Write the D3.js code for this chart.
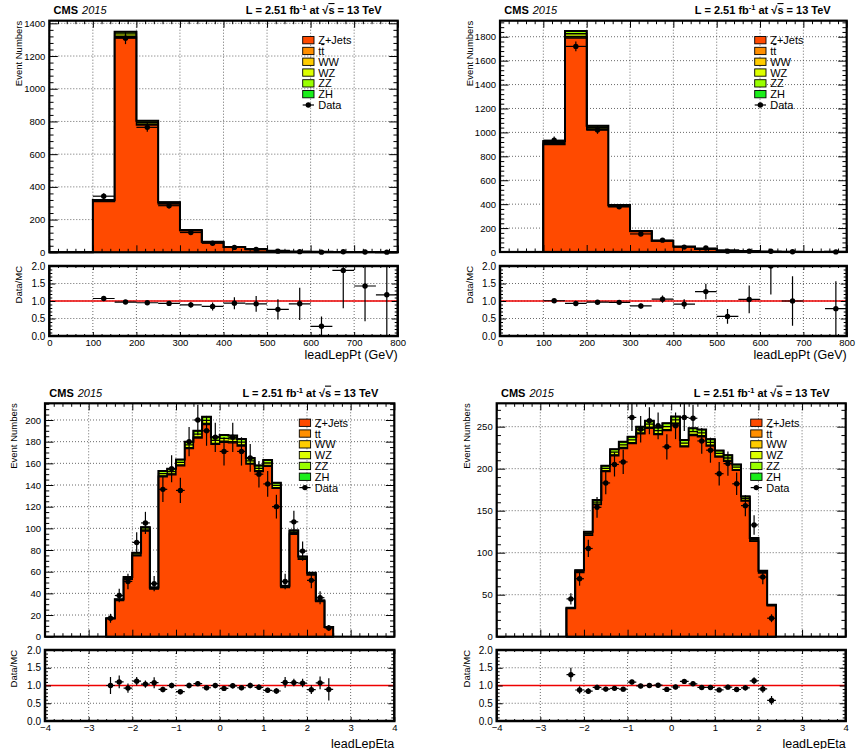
<!DOCTYPE html>
<html>
<head>
<meta charset="utf-8">
<script src="https://cdn.jsdelivr.net/npm/d3@7"></script>
<style>
    body { margin: 0; background: #fff; }
    svg { display: block; font-family: 'Liberation Sans', Arial, Helvetica, sans-serif; }
</style>
</head>
<body>
<svg id="chart" width="859" height="749"></svg>
<script>
// ---- data ----
const processNames = ['Z+Jets', 'tt', 'WW', 'WZ', 'ZZ', 'ZH'];

const ptEdges = [0, 50, 100, 150, 200, 250, 300, 350, 400, 450, 500, 550, 600, 650, 700, 750, 800];
const ptTicks = [0, 100, 200, 300, 400, 500, 600, 700, 800];
const ptTickLabels = ['0', '100', '200', '300', '400', '500', '600', '700', '800'];

// top-left plot
const ptAZJets = [0, 0, 310.3, 1313.4, 778, 295.4, 130.7, 62.1, 30.4, 17.5, 8.7, 4.15, 3.4, 1.5, 1.3, 0.8];
const ptATT = [0, 0, 1.3, 5, 3.5, 1.5, 0.7, 0.4, 0.2, 0.1, 0.1, 0, 0, 0, 0, 0];
const ptAWW = [0, 0, 0.6, 3, 2, 0.8, 0.4, 0.2, 0.1, 0.1, 0, 0, 0, 0, 0, 0];
const ptAWZ = [0, 0, 3.8, 14, 10, 4, 2, 1.1, 0.6, 0.4, 0.2, 0.1, 0.1, 0.05, 0.05, 0.03];
const ptAZZ = [0, 0, 3.8, 13, 10, 4, 2, 1.1, 0.6, 0.4, 0.2, 0.1, 0.1, 0.05, 0.05, 0.02];
const ptAZH = [0, 0, 0.2, 0.6, 0.5, 0.3, 0.2, 0.1, 0.1, 0, 0, 0, 0, 0, 0, 0];
const ptAData = [0, 0, 343, 1309, 764, 285, 121, 55, 30, 17, 7, 4, 1, 3, 2, 1];

// top-right plot
const ptBZJets = [0, 0, 898.1, 1787.5, 1022, 379.8, 170.1, 90.8, 43.5, 25, 12, 6.5, 2.9, 1.9, 0.95, 1.22];
const ptBTT = [0, 0, 4.6, 9, 5, 2, 1, 0.5, 0.2, 0.1, 0.1, 0, 0, 0, 0, 0];
const ptBWW = [0, 0, 2.8, 5.5, 3, 1.2, 0.5, 0.3, 0.1, 0.1, 0, 0, 0, 0, 0, 0];
const ptBWZ = [0, 0, 11, 23, 13, 5, 2.2, 1.2, 0.6, 0.4, 0.2, 0.1, 0.05, 0.05, 0.03, 0.03];
const ptBZZ = [0, 0, 11, 22, 12.5, 4.8, 2.1, 1.1, 0.6, 0.4, 0.2, 0.1, 0.05, 0.05, 0.02, 0.03];
const ptBZH = [0, 0, 0.5, 1, 0.5, 0.2, 0.1, 0.1, 0, 0, 0, 0, 0, 0, 0, 0];
const ptBData = [0, 0, 935, 1719, 1020, 378, 151, 99, 41, 33, 7, 7, 6, 2, 0, 1];

const etaTicks = [-4, -3, -2, -1, 0, 1, 2, 3, 4];
const etaTickLabels = ['\u22124', '\u22123', '\u22122', '\u22121', '0', '1', '2', '3', '4'];

// bottom-left plot
const etaAEdges = [-2.6, -2.4, -2.2, -2.0, -1.8, -1.6, -1.4, -1.2, -1.0, -0.8, -0.6, -0.4, -0.2, 0,
    0.2, 0.4, 0.6, 0.8, 1.0, 1.2, 1.4, 1.6, 1.8, 2.0, 2.2, 2.4, 2.6];
const etaAZJets = [16.4, 33.3, 53.0, 74.7, 97.4, 43.9, 147.6, 149.4, 157.7, 173.6, 183.3, 195.8, 177.5,
    179.4, 178.9, 176.0, 159.2, 152.4, 157.2, 136.9, 45.3, 94.5, 71.4, 56.9, 32.3, 8.7];
const etaATT = [0.1, 0.1, 0.2, 0.2, 0.3, 0.1, 0.5, 0.5, 0.5, 0.5, 0.6, 0.6, 0.6, 0.6, 0.6, 0.5, 0.5,
    0.5, 0.5, 0.4, 0.1, 0.3, 0.2, 0.2, 0.1, 0];
const etaAWW = [0, 0.1, 0.1, 0.2, 0.2, 0.1, 0.3, 0.3, 0.3, 0.4, 0.4, 0.4, 0.4, 0.4, 0.4, 0.4, 0.3, 0.3,
    0.3, 0.3, 0.1, 0.2, 0.1, 0.1, 0.1, 0];
const etaAWZ = [0.2, 0.5, 0.8, 1.1, 1.4, 0.6, 2.1, 2.2, 2.3, 2.5, 2.7, 2.8, 2.6, 2.6, 2.6, 2.6, 2.3, 2.2,
    2.3, 2.0, 0.7, 1.4, 1.0, 0.8, 0.5, 0.1];
const etaAZZ = [0.3, 0.5, 0.9, 1.3, 1.6, 0.7, 2.4, 2.5, 2.6, 2.9, 3.0, 3.3, 2.9, 3.0, 3.0, 2.9, 2.6, 2.5,
    2.6, 2.3, 0.8, 1.6, 1.2, 0.9, 0.5, 0.2];
const etaAZH = [0, 0, 0, 0, 0.1, 0, 0.1, 0.1, 0.1, 0.1, 0.1, 0.1, 0.1, 0.1, 0.1, 0.1, 0.1, 0.1, 0.1, 0.1,
    0, 0, 0.1, 0.1, 0, 0];
const etaAData = [17, 38, 51, 87, 105, 49, 136, 155, 135, 180, 200, 190, 184, 171, 184, 171, 165, 150,
    141, 120, 51, 106, 79, 52, 36, 8];

// bottom-right plot
const etaBEdges = [-2.4, -2.2, -2.0, -1.8, -1.6, -1.4, -1.2, -1.0, -0.8, -0.6, -0.4, -0.2, 0,
    0.2, 0.4, 0.6, 0.8, 1.0, 1.2, 1.4, 1.6, 1.8, 2.0, 2.2, 2.4];
const etaBZJets = [33.3, 76.3, 120.5, 157.1, 196.5, 215.4, 224, 229.8, 241.3, 248.1, 240.5, 245.2, 253,
    225.9, 239.5, 238, 226.9, 213.9, 208.7, 197.9, 161.3, 113.4, 75.8, 36.7];
const etaBTT = [0.1, 0.2, 0.4, 0.5, 0.6, 0.7, 0.7, 0.7, 0.8, 0.8, 0.7, 0.8, 0.8, 0.7, 0.7, 0.7, 0.7, 0.7,
    0.6, 0.6, 0.5, 0.4, 0.2, 0.1];
const etaBWW = [0.1, 0.2, 0.3, 0.3, 0.4, 0.4, 0.5, 0.5, 0.5, 0.5, 0.5, 0.5, 0.5, 0.5, 0.5, 0.5, 0.5, 0.4,
    0.4, 0.4, 0.3, 0.2, 0.2, 0.1];
const etaBWZ = [0.5, 1.1, 1.8, 2.3, 2.9, 3.1, 3.2, 3.3, 3.5, 3.6, 3.5, 3.6, 3.7, 3.3, 3.5, 3.5, 3.3, 3.1,
    3.0, 2.9, 2.3, 1.6, 1.1, 0.5];
const etaBZZ = [0.5, 1.2, 1.9, 2.4, 3.1, 3.3, 3.5, 3.6, 3.8, 3.9, 3.7, 3.8, 3.9, 3.5, 3.7, 3.7, 3.5, 3.3,
    3.2, 3.1, 2.5, 1.8, 1.2, 0.6];
const etaBZH = [0, 0, 0.1, 0.1, 0.1, 0.1, 0.1, 0.1, 0.1, 0.1, 0.1, 0.1, 0.1, 0.1, 0.1, 0.1, 0.1, 0.1, 0.1,
    0.1, 0.1, 0.1, 0, 0];
const etaBData = [45, 69, 105, 154, 183, 205, 208, 261, 247, 257, 251, 226, 251, 261, 260, 233, 222, 194,
    206, 182, 156, 133, 71, 22];

const ratioTicks = [0, 0.5, 1, 1.5, 2];
const ratioTickLabels = ['0.0', '0.5', '1.0', '1.5', '2.0'];

// ---- styling / layout ----
const processColours = ['#ff4a00', '#ff8f00', '#ffcc00', '#ddff00', '#99ff00', '#1aee1a'];

const panels = [
    {
        edges: ptEdges, stack: [ptAZJets, ptATT, ptAWW, ptAWZ, ptAZZ, ptAZH], data: ptAData,
        xDomain: [0, 800], xTicks: ptTicks, xTickLabels: ptTickLabels, xMinor: 20, xTitle: 'leadLepPt (GeV)',
        yMax: 1416, yStep: 200, yMinor: 40,
        left: 49.3, right: 397.7, top: 20.7, bottom: 252.3, rTop: 266, rBottom: 336,
        legendDx: -95, yTitleX: 21.5, xTitleY: 358.5,
    },
    {
        edges: ptEdges, stack: [ptBZJets, ptBTT, ptBWW, ptBWZ, ptBZZ, ptBZH], data: ptBData,
        xDomain: [0, 800], xTicks: ptTicks, xTickLabels: ptTickLabels, xMinor: 20, xTitle: 'leadLepPt (GeV)',
        yMax: 1934, yStep: 200, yMinor: 40,
        left: 500, right: 846.7, top: 20.7, bottom: 252, rTop: 266, rBottom: 336,
        legendDx: -92, yTitleX: 473, xTitleY: 358.5,
    },
    {
        edges: etaAEdges, stack: [etaAZJets, etaATT, etaAWW, etaAWZ, etaAZZ, etaAZH], data: etaAData,
        xDomain: [-4, 4], xTicks: etaTicks, xTickLabels: etaTickLabels, xMinor: 0.2, xTitle: 'leadLepEta',
        yMax: 215.4, yStep: 20, yMinor: 5,
        left: 45, right: 394.3, top: 403.3, bottom: 636.7, rTop: 650, rBottom: 721,
        legendDx: -95, yTitleX: 17.3, xTitleY: 747.5,
    },
    {
        edges: etaBEdges, stack: [etaBZJets, etaBTT, etaBWW, etaBWZ, etaBZZ, etaBZH], data: etaBData,
        xDomain: [-4, 4], xTicks: etaTicks, xTickLabels: etaTickLabels, xMinor: 0.2, xTitle: 'leadLepEta',
        yMax: 277.8, yStep: 50, yMinor: 10,
        left: 496.7, right: 845.7, top: 403.3, bottom: 636.7, rTop: 650, rBottom: 721,
        legendDx: -95, yTitleX: 470, xTitleY: 747.5,
    },
];

const svg = d3.select('#chart');

function minorValues(domain, step, majors) {
    const out = [];
    const n = Math.round((domain[1] - domain[0]) / step);
    for (let i = 0; i <= n; i += 1) {
        const v = domain[0] + (i * step);
        if (!majors.some(m => Math.abs(m - v) < step / 10)) out.push(v);
    }
    return out;
}

// ticks on all four sides, pointing inward
function frameTicks(g, p, x, y, yMajor, yMinorVals, xMinorVals, top, bottom, yLen, xLen) {
    const clean = sel => sel.call(s => s.select('.domain').remove())
        .call(s => s.selectAll('line').attr('stroke', '#000'));
    g.append('g').attr('transform', `translate(${p.left},0)`)
        .call(d3.axisLeft(y).tickValues(yMajor).tickSize(-yLen).tickFormat('')).call(clean);
    g.append('g').attr('transform', `translate(${p.left},0)`)
        .call(d3.axisLeft(y).tickValues(yMinorVals).tickSize(-yLen / 2).tickFormat('')).call(clean);
    g.append('g').attr('transform', `translate(${p.right},0)`)
        .call(d3.axisRight(y).tickValues(yMajor).tickSize(-yLen).tickFormat('')).call(clean);
    g.append('g').attr('transform', `translate(${p.right},0)`)
        .call(d3.axisRight(y).tickValues(yMinorVals).tickSize(-yLen / 2).tickFormat('')).call(clean);
    g.append('g').attr('transform', `translate(0,${bottom})`)
        .call(d3.axisBottom(x).tickValues(p.xTicks).tickSize(-xLen).tickFormat('')).call(clean);
    g.append('g').attr('transform', `translate(0,${bottom})`)
        .call(d3.axisBottom(x).tickValues(xMinorVals).tickSize(-xLen / 2).tickFormat('')).call(clean);
    g.append('g').attr('transform', `translate(0,${top})`)
        .call(d3.axisTop(x).tickValues(p.xTicks).tickSize(-xLen).tickFormat('')).call(clean);
    g.append('g').attr('transform', `translate(0,${top})`)
        .call(d3.axisTop(x).tickValues(xMinorVals).tickSize(-xLen / 2).tickFormat('')).call(clean);
}

function grid(g, p, x, y, yMajor, top, bottom) {
    g.append('g').selectAll('line.gx')
        .data(p.xTicks)
        .enter()
        .append('line')
        .attr('x1', d => x(d)).attr('x2', d => x(d))
        .attr('y1', top).attr('y2', bottom);
    g.append('g').selectAll('line.gy')
        .data(yMajor)
        .enter()
        .append('line')
        .attr('x1', p.left).attr('x2', p.right)
        .attr('y1', d => y(d)).attr('y2', d => y(d));
    g.selectAll('line')
        .attr('stroke', '#444')
        .attr('stroke-width', 0.8)
        .attr('stroke-dasharray', '1,2');
}

function header(p) {
    const t = svg.append('text')
        .attr('x', p.left + 4.3)
        .attr('y', p.top - 6.7)
        .attr('font-size', 11);
    t.append('tspan').attr('font-weight', 'bold').text('CMS');
    t.append('tspan').attr('dx', 4).attr('font-style', 'italic').text('2015');

    const l = svg.append('text')
        .attr('x', p.right - 16)
        .attr('y', p.top - 6.7)
        .attr('font-size', 11)
        .attr('font-weight', 'bold')
        .style('text-anchor', 'end');
    l.append('tspan').text('L = 2.51 fb');
    l.append('tspan').attr('dy', -4).attr('font-size', 7.5).text('-1');
    l.append('tspan').attr('dy', 4).text(' at  \u221A');
    l.append('tspan').style('text-decoration', 'overline').text('s');
    l.append('tspan').text(' = 13 TeV');
}

function legend(p) {
    const lg = svg.append('g')
        .attr('transform', `translate(${p.right + p.legendDx},${p.top + 19.5})`)
        .attr('font-size', 11);
    processNames.forEach((name, i) => {
        const row = lg.append('g').attr('transform', `translate(0,${i * 10.8})`);
        row.append('rect')
            .attr('x', 0).attr('y', -3.7)
            .attr('width', 11.3).attr('height', 7.3)
            .attr('fill', processColours[i])
            .attr('stroke', '#000')
            .attr('stroke-width', 0.9);
        const t = row.append('text').attr('x', 15.5).attr('y', 4);
        if (name === 'tt') {
            t.append('tspan').text('t');
            t.append('tspan').style('text-decoration', 'overline').text('t');
        } else {
            t.text(name);
        }
    });
    const dataRow = lg.append('g').attr('transform', `translate(0,${processNames.length * 10.8})`);
    dataRow.append('line').attr('x1', 0).attr('x2', 11.3).attr('y1', 0).attr('y2', 0)
        .attr('stroke', '#000').attr('stroke-width', 1.2);
    dataRow.append('circle').attr('cx', 5.65).attr('cy', 0).attr('r', 2.7).attr('fill', '#000');
    dataRow.append('text').attr('x', 15.5).attr('y', 4).text('Data');
}

function drawPanel(p, idx) {
    const x = d3.scaleLinear().domain(p.xDomain).range([p.left, p.right]);
    const y = d3.scaleLinear().domain([0, p.yMax]).range([p.bottom, p.top]);
    const r = d3.scaleLinear().domain([0, 2]).range([p.rBottom, p.rTop]);
    const nBins = p.edges.length - 1;
    const yMajor = d3.range(0, p.yMax, p.yStep);
    const yMinorVals = minorValues([0, Math.floor(p.yMax / p.yMinor) * p.yMinor], p.yMinor, yMajor);
    const xMinorVals = minorValues(p.xDomain, p.xMinor, p.xTicks);
    const rMinorVals = minorValues([0, 2], 0.1, ratioTicks);

    // cumulative stack, bottom (Z+Jets) to top (ZH)
    const cumulative = [];
    p.stack.forEach((series, k) => {
        cumulative.push(series.map((v, i) => v + (k > 0 ? cumulative[k - 1][i] : 0)));
    });
    const total = cumulative[cumulative.length - 1];

    const main = svg.append('g').attr('class', `main-${idx}`);
    grid(main.append('g'), p, x, y, yMajor, p.top, p.bottom);

    const area = d3.area()
        .curve(d3.curveStepAfter)
        .x(d => x(d.x))
        .y0(y(0))
        .y1(d => y(d.v));
    const stepPoints = vals => p.edges.map((e, i) => ({ x: e, v: vals[Math.min(i, nBins - 1)] }));

    for (let k = cumulative.length - 1; k >= 0; k -= 1) {
        main.append('path')
            .datum(stepPoints(cumulative[k]))
            .attr('d', area)
            .attr('fill', processColours[k])
            .attr('stroke', '#000')
            .attr('stroke-width', 1.3);
    }
    const outline = d3.line().curve(d3.curveStepAfter).x(d => x(d.x)).y(d => y(d.v));
    const outlinePts = [{ x: p.edges[0], v: 0 }].concat(stepPoints(total), [{ x: p.edges[nBins], v: 0 }]);
    main.append('path')
        .datum(outlinePts)
        .attr('d', outline)
        .attr('fill', 'none')
        .attr('stroke', '#000')
        .attr('stroke-width', 2);

    // data points with poisson errors
    const bins = p.data.map((d, i) => ({
        lo: p.edges[i], hi: p.edges[i + 1], n: d, mc: total[i],
    })).filter(b => b.n > 0);
    const pts = main.append('g').selectAll('g').data(bins).enter().append('g');
    pts.append('line')
        .attr('x1', d => x(d.lo)).attr('x2', d => x(d.hi))
        .attr('y1', d => y(d.n)).attr('y2', d => y(d.n));
    pts.append('line')
        .attr('x1', d => x((d.lo + d.hi) / 2)).attr('x2', d => x((d.lo + d.hi) / 2))
        .attr('y1', d => y(d.n - Math.sqrt(d.n))).attr('y2', d => y(d.n + Math.sqrt(d.n)));
    pts.selectAll('line').attr('stroke', '#000').attr('stroke-width', 1.2);
    pts.append('circle')
        .attr('cx', d => x((d.lo + d.hi) / 2))
        .attr('cy', d => y(d.n))
        .attr('r', 2.7)
        .attr('fill', '#000');

    // frame, ticks, labels
    frameTicks(main.append('g'), p, x, y, yMajor, yMinorVals, xMinorVals, p.top, p.bottom, 8.5, 7);
    main.append('rect')
        .attr('x', p.left).attr('y', p.top)
        .attr('width', p.right - p.left).attr('height', p.bottom - p.top)
        .attr('fill', 'none').attr('stroke', '#000').attr('stroke-width', 2.2);
    main.append('g')
        .attr('transform', `translate(${p.left},0)`)
        .call(d3.axisLeft(y).tickValues(yMajor).tickSize(0).tickPadding(4).tickFormat(d3.format('d')))
        .call(g => g.select('.domain').remove())
        .call(g => g.selectAll('text').attr('font-size', 9.5).attr('font-family', null).attr('fill', '#000'));
    main.append('text')
        .attr('transform', `translate(${p.yTitleX},${p.top}) rotate(-90)`)
        .style('text-anchor', 'end')
        .attr('font-size', 9.5)
        .text('Event Numbers');

    header(p);
    legend(p);

    // ratio pad
    const ratio = svg.append('g').attr('class', `ratio-${idx}`);
    grid(ratio.append('g'), p, x, r, ratioTicks, p.rTop, p.rBottom);
    ratio.append('line')
        .attr('x1', x(p.xDomain[0])).attr('x2', x(p.xDomain[1]))
        .attr('y1', r(1)).attr('y2', r(1))
        .attr('stroke', '#ee0000').attr('stroke-width', 1.4);

    const clipId = `rclip-${idx}`;
    svg.append('clipPath').attr('id', clipId)
        .append('rect')
        .attr('x', p.left).attr('y', p.rTop)
        .attr('width', p.right - p.left).attr('height', p.rBottom - p.rTop);
    const rbins = bins.filter(b => b.mc > 0).map(b => ({
        lo: b.lo, hi: b.hi, v: b.n / b.mc, e: Math.sqrt(b.n) / b.mc,
    }));
    const rpts = ratio.append('g').attr('clip-path', `url(#${clipId})`)
        .selectAll('g').data(rbins).enter().append('g');
    rpts.append('line')
        .attr('x1', d => x(d.lo)).attr('x2', d => x(d.hi))
        .attr('y1', d => r(d.v)).attr('y2', d => r(d.v));
    rpts.append('line')
        .attr('x1', d => x((d.lo + d.hi) / 2)).attr('x2', d => x((d.lo + d.hi) / 2))
        .attr('y1', d => r(Math.max(d.v - d.e, 0))).attr('y2', d => r(d.v + d.e));
    rpts.selectAll('line').attr('stroke', '#000').attr('stroke-width', 1.2);
    rpts.append('circle')
        .attr('cx', d => x((d.lo + d.hi) / 2))
        .attr('cy', d => r(d.v))
        .attr('r', 2.7)
        .attr('fill', '#000');

    frameTicks(ratio.append('g'), p, x, r, ratioTicks, rMinorVals, xMinorVals, p.rTop, p.rBottom, 6, 4);
    ratio.append('rect')
        .attr('x', p.left).attr('y', p.rTop)
        .attr('width', p.right - p.left).attr('height', p.rBottom - p.rTop)
        .attr('fill', 'none').attr('stroke', '#000').attr('stroke-width', 2.5);
    ratio.append('g')
        .attr('transform', `translate(${p.left},0)`)
        .call(d3.axisLeft(r).tickValues(ratioTicks).tickSize(0).tickPadding(4)
            .tickFormat((d, i) => ratioTickLabels[i]))
        .call(g => g.select('.domain').remove())
        .call(g => g.selectAll('text').attr('font-size', 10).attr('font-family', null).attr('fill', '#000'));
    ratio.append('g')
        .attr('transform', `translate(0,${p.rBottom})`)
        .call(d3.axisBottom(x).tickValues(p.xTicks).tickSize(0).tickPadding(3.5)
            .tickFormat((d, i) => p.xTickLabels[i]))
        .call(g => g.select('.domain').remove())
        .call(g => g.selectAll('text').attr('font-size', 9.5).attr('font-family', null).attr('fill', '#000'));
    ratio.append('text')
        .attr('transform', `translate(${p.yTitleX},${p.rTop}) rotate(-90)`)
        .style('text-anchor', 'end')
        .attr('font-size', 9.5)
        .text('Data/MC');
    ratio.append('text')
        .attr('x', p.right)
        .attr('y', p.xTitleY)
        .style('text-anchor', 'end')
        .attr('font-size', 12.5)
        .text(p.xTitle);
}

panels.forEach((p, i) => drawPanel(p, i));
</script>
</body>
</html>
